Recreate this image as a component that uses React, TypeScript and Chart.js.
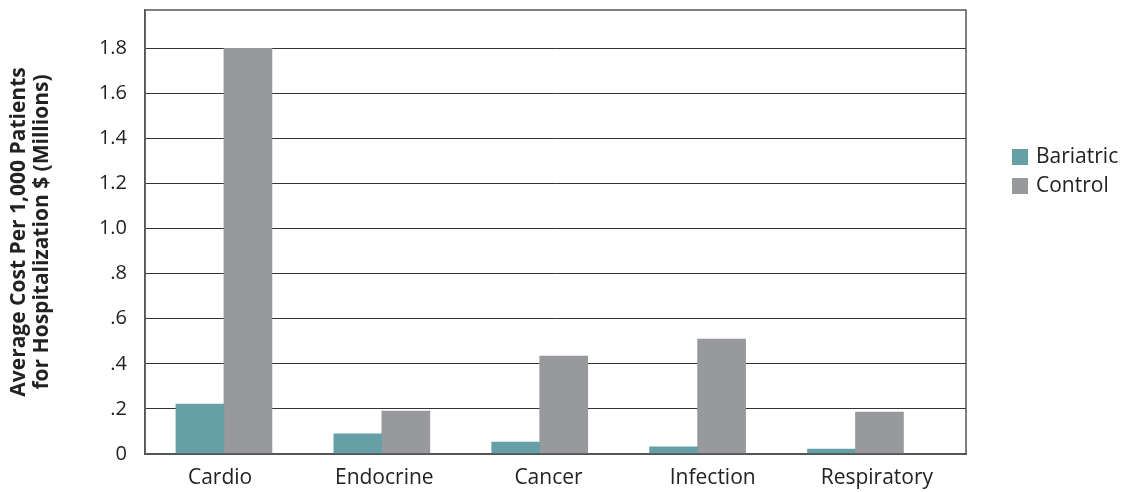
import React, { useEffect, useRef } from "react";
import { Chart, registerables } from "chart.js";

Chart.register(...registerables);

const categories = ["Cardio", "Endocrine", "Cancer", "Infection", "Respiratory"];
const bariatric = [0.222, 0.089, 0.053, 0.032, 0.022];
const control = [1.8, 0.19, 0.434, 0.51, 0.186];
const yTicks = [0, 0.2, 0.4, 0.6, 0.8, 1.0, 1.2, 1.4, 1.6, 1.8];
const seriesNames = ["Bariatric", "Control"];
const seriesColors = ["#66a0a7", "#98999d"];

const FONT = "'Open Sans', Lato, sans-serif";

// Bars sit on an index axis that runs a little past the last group
const barAxisMin = -0.5;
const barAxisMax = 4.7;

function formatTick(v: number): string {
  if (v === 0) return "0";
  const s = v.toFixed(1);
  return v < 1 ? s.slice(1) : s;
}

const toPoints = (arr: number[]) => arr.map((y, i) => ({ x: i, y }));

// Box around the plotting area
const frame = {
  id: "frame",
  afterDraw(chart: any) {
    const { ctx, chartArea } = chart;
    ctx.save();
    ctx.strokeStyle = "#555";
    ctx.lineWidth = 1.5;
    ctx.strokeRect(chartArea.left, chartArea.top, chartArea.right - chartArea.left, chartArea.bottom - chartArea.top);
    ctx.restore();
  },
};

// Legend on the right of the plot
const sideLegend = {
  id: "sideLegend",
  afterDraw(chart: any) {
    const { ctx, chartArea } = chart;
    const x = chartArea.right + 46;
    let y = 149;
    ctx.save();
    ctx.font = `21px ${FONT}`;
    ctx.textBaseline = "middle";
    chart.data.datasets.forEach((ds: any) => {
      ctx.fillStyle = ds.backgroundColor;
      ctx.fillRect(x, y, 16, 16);
      ctx.fillStyle = "#222";
      ctx.fillText(ds.label, x + 24, y + 8);
      y += 29;
    });
    ctx.restore();
  },
};

export default function App() {
  const ref = useRef<HTMLCanvasElement>(null);

  useEffect(() => {
    if (!ref.current) return;
    const chart = new Chart(ref.current, {
      type: "bar",
      data: {
        labels: categories,
        datasets: [
          { label: seriesNames[0], data: toPoints(bariatric), backgroundColor: seriesColors[0], xAxisID: "xb" },
          { label: seriesNames[1], data: toPoints(control), backgroundColor: seriesColors[1], xAxisID: "xb" },
        ],
      },
      options: {
        animation: false,
        responsive: true,
        maintainAspectRatio: false,
        layout: { padding: { top: 10, right: 158, left: 0, bottom: 0 } },
        datasets: { bar: { barThickness: 48, grouped: true } },
        plugins: {
          legend: { display: false },
          tooltip: { enabled: false },
        },
        scales: {
          x: {
            type: "category",
            position: "bottom",
            offset: true,
            grid: { display: false, drawTicks: false },
            border: { display: true, color: "#555", width: 2 },
            ticks: { color: "#222", font: { family: FONT, size: 21 }, padding: 11, labelOffset: -7 },
            afterFit: (s: any) => {
              s.height = 38;
              s.paddingLeft = 0;
              s.paddingRight = 0;
            },
          },
          xb: {
            type: "linear",
            position: "bottom",
            display: false,
            offset: false,
            grid: { offset: false },
            min: barAxisMin,
            max: barAxisMax,
          },
          y: {
            min: 0,
            max: 1.97,
            afterBuildTicks: (s: any) => {
              s.ticks = yTicks.map((v) => ({ value: v }));
            },
            grid: { color: "#333", lineWidth: 1, drawTicks: false },
            border: { display: true, color: "#555", width: 1.5 },
            ticks: {
              color: "#222",
              font: { family: FONT, size: 20 },
              padding: 18,
              callback: (v: any) => formatTick(Number(v)),
            },
            title: {
              display: true,
              text: ["Average Cost Per 1,000 Patients", "for Hospitalization $ (Millions)"],
              color: "#222",
              font: { family: FONT, size: 21, weight: "bold", lineHeight: 1.12 },
              padding: { top: 7, bottom: 0 },
            },
            afterFit: (s: any) => {
              s.width = 145;
              s.paddingTop = 0;
              s.paddingBottom = 0;
            },
          },
        },
      },
      plugins: [frame, sideLegend],
    });
    return () => chart.destroy();
  }, []);

  return (
    <div style={{ position: "absolute", left: 0, top: 0, width: 1124, height: 492, background: "#fff" }}>
      <canvas ref={ref} />
    </div>
  );
}
